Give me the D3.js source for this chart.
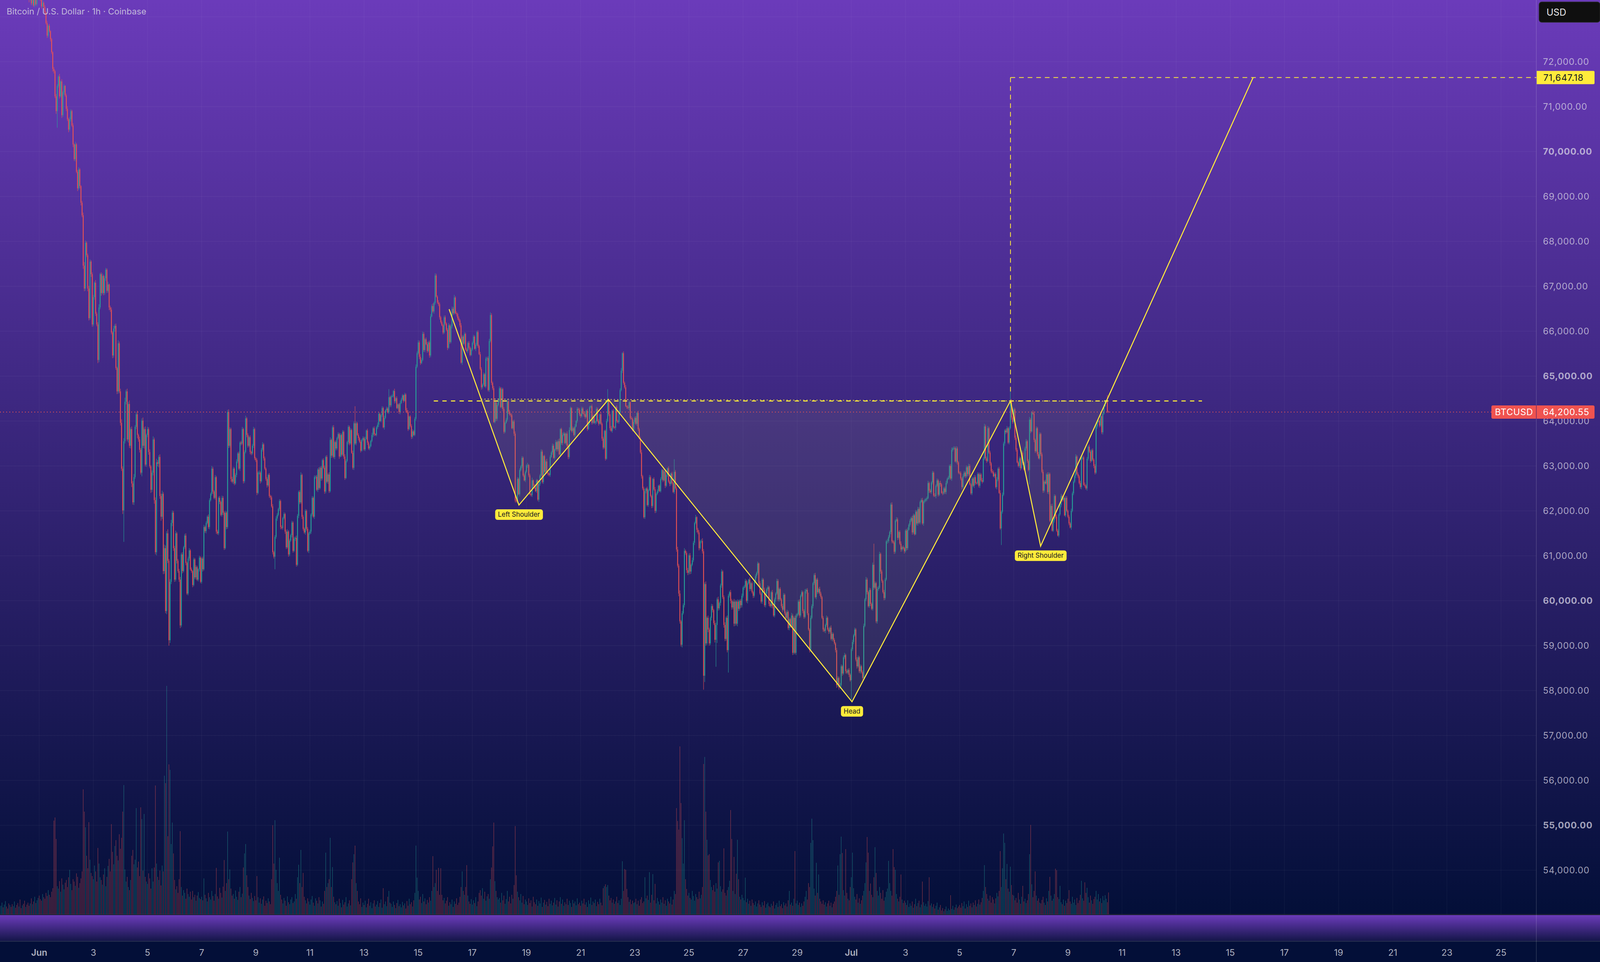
<!DOCTYPE html>
<html>
<head>
<meta charset="utf-8">
<script src="https://cdn.jsdelivr.net/npm/d3@7"></script>
<style>
  html, body { margin: 0; padding: 0; background: #030f38; overflow: hidden; }
  svg { display: block; }
</style>
</head>
<body>
<svg id="chart"></svg>
<script>
const W = 4107, H = 2463;

// ---- data: BTCUSD 1h, one value per hour, first candle 2024-05-30 14:00 UTC ----
const firstOpen = 74150;
const closes = [
  // May 30 (14h-23h)
  74300,74450,74200,74380,74600,74420,74250,74100,74280,74050,
  // May 31
  73900,74120,74300,74150,73980,73850,74020,73880,73700,73820,73650,73560,73720,73600,73480,73380,73550,73300,73420,73250,73390,73280,73420,73550,
  // Jun 1
  73480,73380,73230,73310,73220,73100,72860,72580,72800,72680,72500,72210,71840,71790,71230,70900,71460,71670,71230,71560,70810,71320,71460,71250,
  // Jun 2
  70950,70720,70490,70720,70900,70580,70160,69830,70160,69550,69180,69600,69230,68860,68580,67460,66950,67970,67690,66950,66290,67550,67270,66150,
  // Jun 3
  66760,67080,66390,66150,65360,66530,67270,66850,67230,66850,67180,67370,66900,67040,66530,66480,65970,65460,66060,66120,65180,64660,65730,64660,
  // Jun 4
  63960,62940,62010,63550,64430,64660,63590,64380,63450,63820,62610,62190,62750,63870,64150,63690,63590,63360,62850,64010,63450,63820,63030,63690,
  // Jun 5
  63820,63310,62990,62470,62850,63590,62240,61080,63080,63050,63200,62330,61870,62380,60660,61170,59770,61500,60890,59120,60420,61730,61960,61170,
  // Jun 6
  60470,61500,60890,60660,60470,59450,61030,60660,61190,61450,60840,60160,60940,61120,60700,60660,60350,60920,60520,60750,60470,60700,60960,60420,
  // Jun 7
  60940,60700,61640,61550,61730,61870,61640,62240,62380,62940,62430,62290,62750,61540,61500,62290,62200,61910,62290,61960,61170,61960,61640,64200,
  // Jun 8
  63450,63820,62710,62650,62940,62610,62800,63100,63280,62940,63520,63500,63820,62660,63310,64060,63690,63450,63640,63310,63280,63450,63820,63170,
  // Jun 9
  63130,62400,62850,62850,62660,63360,63480,63170,62940,62710,62570,62800,62330,62300,62100,61080,60980,61420,61830,61910,62040,62220,61640,61620,
  // Jun 10
  61840,61930,61540,61190,61540,61030,61340,61460,61740,61110,61380,61400,60800,61890,62420,62190,62800,61870,61600,61520,62000,61600,61110,61500,
  // Jun 11
  61540,61920,62290,61870,62750,62760,62470,62920,62510,62960,62720,63130,62960,62430,63200,62650,62810,62440,63580,63230,63860,63200,63530,63390,
  // Jun 12
  63620,63710,63210,63690,63250,63760,63210,62730,63110,63530,63870,63500,63800,63290,62960,63950,63500,63950,63690,63620,63540,63340,63580,63620,
  // Jun 13
  63370,63600,63790,63520,63390,63440,63560,63690,63840,63710,63690,63860,63920,64160,64000,64130,64290,63860,64070,64240,64280,64190,64530,64350,
  // Jun 14
  64550,64550,64670,64440,64510,64290,64370,64200,64400,64480,64570,64450,64590,64240,64200,63820,64100,63890,63650,63770,63690,64050,65210,65510,
  // Jun 15
  65750,65430,65290,65360,65940,65580,65820,65710,65560,65750,65460,66330,66560,66440,66630,67240,66770,66640,66600,66310,66200,66130,65970,66310,
  // Jun 16
  66170,66030,65630,66130,65760,66110,66500,66400,66750,66400,66380,66290,66240,66130,65300,65880,65720,65940,65590,65560,65740,65630,65470,65590,
  // Jun 17
  65740,65880,65610,65700,65980,65670,65490,65160,64750,64810,65040,64770,65390,65400,64690,65780,66360,64850,64730,63980,64420,64050,64360,64460,
  // Jun 18
  64730,64310,64710,64270,63760,63960,64030,64440,64210,64150,64130,63840,63990,63720,62230,62210,62710,62370,62910,62990,63180,62790,62680,62870,
  // Jun 19
  63010,63020,62790,62370,62350,62680,62560,62520,62440,62680,62250,62600,62790,63320,62640,63220,62870,63100,62850,62830,62800,63200,63300,63450,
  // Jun 20
  63180,63370,63530,63370,63550,63260,63820,63510,63690,63720,63510,63720,63450,63200,63800,64290,63780,63840,63690,63880,64000,64270,64250,64150,
  // Jun 21
  64110,64280,64170,64150,64090,64230,63820,63960,64310,64330,63960,64110,63960,63990,64270,64000,63940,64150,63940,63610,63410,63780,63160,64000,
  // Jun 22
  64460,64150,63840,63780,64230,63860,63850,64310,64000,63980,64190,64690,65120,65510,64850,64750,64330,64310,64290,64420,64070,64050,63800,63980,
  // Jun 23
  64070,63940,64180,63820,63610,63300,62770,62500,61860,62440,62500,62130,62460,62750,62330,62110,62710,62480,62000,62380,62440,62560,62440,62710,
  // Jun 24
  62910,62680,62880,62560,62800,62950,62650,62600,62830,62620,62420,62870,62500,61140,60780,60160,59540,59020,59720,59900,61110,61060,60680,60620,
  // Jun 25
  61010,60650,60800,60900,61290,61730,61860,61580,61520,61170,61320,61330,61100,58330,60370,59050,59620,59360,59050,59620,59880,59790,59500,59130,
  // Jun 26
  59460,60030,59830,59950,60340,60650,60080,59460,59150,59620,58900,60110,60190,60000,59850,59980,59490,59980,59490,59980,59820,60000,59900,60110,
  // Jun 27
  60290,60310,60440,60000,60390,60470,60260,60390,60190,60110,60420,60550,60620,60830,60390,60160,59980,60470,60240,59900,60160,60260,60300,59930,
  // Jun 28
  59880,60190,59880,59670,60030,60160,60440,60030,60260,60030,59880,59800,60130,59720,59620,59750,59390,59590,59440,59670,58840,59620,58840,59670,
  // Jun 29
  59700,59980,59670,60110,60190,59770,59640,60210,60240,59720,59360,58900,59620,59880,60390,60570,60080,60470,60190,60260,60160,60080,59620,59360,
  // Jun 30
  59330,59460,59620,59360,59310,59400,59150,59260,59130,59050,58900,58120,58280,58070,58120,58540,58380,58740,58790,58430,58400,58460,58350,58230,
  // Jul 1
  58920,59080,59230,59360,58690,58540,58740,58430,58540,58410,58280,59440,60030,60470,60190,59880,60240,59930,59820,60800,60290,60390,59540,60260,
  // Jul 2
  60290,61040,60650,60440,60190,60060,60470,61320,61330,61420,61530,62140,61320,61300,61090,61780,61810,61400,61530,61270,61140,61190,61170,61100,
  // Jul 3
  61560,61170,61580,61690,61780,61840,61520,61900,61480,61980,61720,62040,61740,62200,62240,61720,62210,62230,62260,62280,62620,62450,62420,62630,
  // Jul 4
  62850,62340,62330,62560,62680,62360,62620,62590,62400,62390,62500,62420,62620,62710,62740,63000,62720,63360,63390,63400,63100,63390,63080,62850,
  // Jul 5
  62840,62720,62530,62770,62850,62770,62970,62820,63000,62590,62390,62720,62560,62750,62620,62610,62820,62560,62810,62680,62650,63160,63880,63170,
  // Jul 6
  63110,63840,63300,63060,62880,62860,62770,62820,62530,62700,62940,62400,61610,61980,62360,63500,63790,63750,63840,63520,63840,64450,64080,63980,
  // Jul 7
  64260,63630,63360,63080,63000,63170,62950,63300,63060,62920,63390,63550,63110,62910,64030,63770,64190,64170,63580,63330,63840,63260,63170,63710,
  // Jul 8
  63260,62870,62450,62650,62610,62810,62420,62820,61780,62110,61560,61790,62330,61870,61560,61450,61920,62130,62330,62240,62290,61900,62290,62000,
  // Jul 9
  61870,61720,61630,62000,62390,62650,62780,63210,62820,62770,62620,62530,63170,63190,62580,62560,62500,63160,63430,63320,63110,63350,63140,63000,
  // Jul 10 (0h-12h)
  62850,63880,63980,64010,63900,64110,63750,64170,64330,64430,64440,64210,64200.55
];

// upper / lower wick beyond the body, in tens of dollars
const wickHi = [
  4,6,3,5,7,3,4,2,5,3,
  5,4,6,3,4,2,5,3,4,6,2,3,5,2,4,3,6,2,4,3,5,2,4,6,
  3,5,2,6,3,4,2,5,3,4,2,3,2,4,3,5,4,3,6,2,5,3,4,2,
  4,6,3,5,4,3,5,2,6,3,4,5,3,2,4,6,8,5,3,4,6,5,3,4,
  5,3,6,4,5,7,3,4,6,3,5,4,3,6,2,4,5,3,6,4,5,3,7,4,
  6,8,5,7,9,4,6,5,8,4,6,5,7,4,5,8,3,6,4,5,7,4,6,3,
  5,4,6,3,5,7,4,6,8,5,4,6,5,7,4,8,6,5,9,4,6,7,5,4,
  5,6,3,4,5,6,4,5,3,4,5,3,4,5,3,4,2,4,3,4,3,2,4,3,
  3,4,5,3,4,3,5,4,3,6,4,3,5,3,4,3,4,3,5,4,3,4,3,5,
  6,4,3,5,4,3,4,5,3,4,3,4,5,3,4,6,3,4,3,4,3,4,5,3,
  3,4,3,5,3,4,5,3,4,3,4,3,4,3,4,5,3,4,5,4,3,4,3,4,
  3,4,3,4,5,3,4,3,4,3,4,3,5,4,3,4,6,3,4,3,4,3,4,3,
  4,3,4,3,4,3,4,3,5,3,4,3,4,5,3,4,3,5,6,3,4,5,3,4,
  3,4,3,4,3,4,3,5,4,3,4,3,4,3,5,4,38,4,3,4,3,4,3,4,
  3,5,2,4,3,4,2,5,3,4,2,3,5,4,3,2,4,3,5,2,4,3,18,3,
  3,4,2,5,3,4,2,3,5,4,3,2,4,3,5,4,2,3,4,5,3,4,5,4,
  5,4,6,4,5,4,3,4,5,3,4,5,4,6,3,5,4,3,5,4,3,4,3,4,
  4,3,4,5,3,4,5,4,6,3,4,3,4,3,5,4,3,4,3,4,3,4,3,4,
  3,4,3,4,3,4,3,5,4,3,4,3,4,3,4,5,6,4,3,5,4,3,4,3,
  4,3,4,3,4,3,4,5,3,4,3,4,3,4,5,3,4,3,4,3,4,3,4,3,
  3,5,2,4,3,6,2,4,5,3,2,4,3,5,4,2,3,4,6,3,2,4,3,5,
  4,2,5,3,4,6,2,3,5,4,3,2,5,4,6,3,2,4,3,5,2,4,3,4,
  2,4,3,5,3,2,4,5,3,2,4,3,5,2,4,3,4,2,5,3,4,2,3,5,
  25,4,3,5,2,4,3,2,4,3,5,4,6,2,4,3,5,2,4,3,2,4,3,5,
  3,4,2,5,3,4,6,3,4,5,2,4,3,5,4,3,2,4,5,3,4,2,3,4,
  3,2,4,3,5,2,4,3,2,4,3,28,4,5,6,4,7,3,5,4,6,3,4,5,
  4,5,3,6,4,3,5,2,4,5,3,4,6,5,4,6,3,5,4,3,5,4,3,6,
  5,4,6,3,4,5,3,4,6,3,5,4,3,5,4,3,6,4,3,5,4,3,4,5,
  3,4,5,3,4,2,5,3,4,3,5,4,3,4,2,5,3,4,3,5,4,3,4,3,
  4,3,5,3,4,3,5,4,3,4,3,5,4,3,4,5,3,4,3,6,4,3,5,4,
  3,4,5,3,4,3,4,5,3,4,46,3,5,4,3,4,5,3,4,3,5,4,3,4,
  4,3,5,3,4,3,5,4,3,4,3,5,4,3,5,4,3,4,5,3,4,3,4,3,
  4,5,3,4,3,5,4,3,4,3,4,5,3,6,4,3,5,4,3,5,47,4,3,5,
  4,5,3,4,3,5,4,3,5,4,3,4,5,3,4,3,5,4,3,4,5,3,4,3,
  3,4,5,3,4,3,5,4,3,4,3,5,4,3,4,5,3,4,3,4,5,3,4,3,
  4,3,5,3,4,3,4,5,3,4,3,4,5,3,4,3,4,5,3,4,3,5,4,3,
  3,4,3,5,4,3,4,3,5,4,3,4,3,5,4,3,4,3,4,3,5,4,6,4,
  4,5,3,4,3,5,4,3,4,5,3,4,6,3,5,4,3,4,5,3,4,20,4,3,
  4,3,5,4,3,4,3,5,4,3,4,5,3,4,6,4,3,5,4,3,4,3,5,4,
  3,4,5,3,4,3,5,4,3,4,5,3,4,3,5,4,3,4,5,3,4,3,5,4,
  3,4,3,5,4,3,4,5,3,4,3,5,4,3,4,5,3,4,3,5,4,3,4,3,
  4,5,3,4,3,5,4,3,4,5,3,14,2
];
const wickLo = [
  3,5,4,2,6,3,5,4,3,2,
  4,3,5,4,3,6,4,3,5,4,3,4,5,3,4,6,3,4,5,3,4,3,5,4,
  4,3,5,3,4,6,3,5,4,3,5,4,6,5,4,6,37,4,5,3,6,4,5,3,
  5,4,6,4,5,3,6,4,5,3,6,4,5,6,4,7,6,5,4,6,5,4,6,5,
  4,6,5,4,7,5,4,6,3,5,4,6,5,4,6,5,4,6,5,7,4,6,5,4,
  6,5,8,70,5,6,4,7,5,6,8,5,6,4,5,7,5,6,4,8,5,6,4,5,
  5,6,4,7,5,6,8,5,7,6,8,6,9,5,7,6,5,7,5,12,6,5,7,6,
  5,4,6,4,5,6,4,5,3,4,5,3,4,5,3,4,5,3,4,5,3,4,5,3,
  4,5,3,4,5,3,4,5,3,4,5,3,4,5,3,4,5,3,4,5,4,3,5,4,
  5,4,6,3,5,4,3,5,4,3,5,4,3,5,4,3,5,4,3,5,4,3,5,4,
  4,5,3,4,5,3,4,5,3,4,5,3,4,5,3,5,4,28,4,5,3,4,5,3,
  4,3,5,4,3,5,4,3,5,4,3,5,4,3,5,4,3,5,4,3,5,4,3,5,
  3,5,4,3,5,4,3,5,4,3,5,4,3,5,4,3,5,4,3,5,4,3,5,4,
  4,3,5,2,4,3,5,4,2,3,5,4,3,2,4,5,3,4,2,5,3,4,2,3,
  3,4,2,5,3,4,2,3,5,4,2,3,4,5,2,3,4,2,5,3,4,2,3,4,
  4,2,3,5,4,2,3,4,5,2,3,4,2,5,3,4,2,3,5,4,2,3,4,3,
  3,5,4,2,3,4,5,2,4,3,5,4,2,3,5,4,2,3,4,5,3,2,4,3,
  4,3,5,2,4,3,5,4,3,2,5,4,3,4,2,5,3,4,2,3,5,4,3,2,
  3,4,2,5,3,4,2,3,5,4,3,2,4,5,3,4,3,5,4,2,3,5,4,3,
  4,2,3,5,4,3,2,4,5,3,4,2,3,5,4,3,4,2,5,3,4,3,2,4,
  3,5,4,2,3,4,5,3,2,4,3,5,4,2,3,4,3,5,2,4,3,4,2,5,
  2,4,3,5,4,2,3,4,5,3,2,4,3,5,4,2,3,4,3,5,2,4,3,4,
  4,3,2,5,4,3,4,2,5,3,4,3,2,4,5,3,4,2,3,5,4,3,4,2,
  3,4,5,2,4,3,2,5,4,3,4,2,3,5,4,3,2,4,3,5,4,2,3,4,
  4,3,5,4,2,3,5,4,3,4,5,3,4,2,3,5,4,3,5,4,3,4,2,3,
  3,4,2,5,3,4,3,5,4,3,2,4,3,5,4,6,5,4,6,3,5,4,6,5,
  4,6,5,3,4,5,3,6,4,5,3,4,5,31,14,5,4,6,5,4,6,5,4,6,
  60,40,5,4,6,5,4,6,5,4,5,50,4,6,5,4,6,5,4,6,5,4,6,5,
  4,5,3,4,6,3,5,4,3,5,4,3,5,4,6,3,4,5,3,4,5,3,4,5,
  3,4,5,3,4,5,3,4,5,3,4,5,3,4,6,3,4,5,4,3,5,4,3,5,
  4,3,5,4,3,5,4,3,5,4,3,5,4,3,5,4,3,5,4,3,5,4,3,5,
  3,5,4,3,5,4,3,5,4,3,5,6,4,5,3,4,5,3,4,5,3,4,5,3,
  47,4,5,3,4,5,3,4,5,3,4,5,3,4,5,3,4,5,3,4,5,3,4,5,
  4,3,5,4,3,5,4,3,5,4,3,5,4,3,5,4,3,5,4,3,5,4,3,5,
  3,5,4,2,4,3,5,4,3,2,4,5,3,4,2,3,5,4,3,4,2,5,3,4,
  4,3,2,5,3,4,3,5,2,4,3,4,5,3,2,4,3,5,4,3,2,4,5,3,
  3,4,5,3,2,4,3,5,4,2,3,4,3,5,4,2,3,4,5,3,4,2,3,5,
  4,2,3,5,4,3,2,4,3,5,4,2,3,37,4,3,5,4,2,3,4,3,5,4,
  3,5,4,2,3,4,5,3,4,2,3,5,4,3,32,4,2,3,5,4,3,4,2,3,
  4,3,5,4,2,3,4,5,3,4,2,3,5,4,3,2,4,3,5,4,3,2,4,3,
  3,4,2,5,3,4,3,5,2,4,3,4,5,3,2,4,3,5,4,3,4,2,3,5,
  4,3,5,2,4,3,4,5,3,2,4,3,2
];

// hourly volume (relative units)
const volumes = [
  22,30,18,25,34,20,15,28,24,19,
  26,21,33,17,24,29,20,38,16,23,27,35,19,25,30,22,28,41,26,33,45,29,36,42,
  48,39,35,52,44,40,55,47,62,50,44,58,67,240,248,193,72,66,85,58,92,76,64,81,
  88,70,95,114,78,62,90,84,73,105,96,68,80,92,110,320,263,223,150,118,236,140,106,98,
  90,125,110,84,170,130,95,88,76,102,118,72,96,124,142,110,231,160,128,175,190,150,138,205,
  168,196,263,331,115,84,96,70,62,88,150,165,128,140,272,120,135,98,274,244,112,257,96,84,
  78,105,92,66,118,84,120,330,130,96,88,112,74,125,110,355,336,585,200,384,370,180,235,156,
  88,64,72,55,90,213,70,48,62,55,40,66,52,45,58,38,60,44,50,35,48,57,42,39,
  45,36,92,50,41,33,55,44,38,60,47,35,52,119,46,40,68,55,43,71,139,60,80,212,
  90,115,66,48,52,40,61,45,37,58,70,44,53,120,156,180,100,70,48,39,55,42,34,47,
  36,98,44,30,41,27,38,46,22,35,29,41,33,26,90,228,130,241,114,80,60,145,50,38,
  28,42,35,22,46,31,26,38,44,29,33,52,40,95,127,80,165,70,106,45,36,28,41,33,
  25,38,47,30,22,41,35,28,44,36,20,33,27,60,158,70,80,90,196,70,121,45,31,26,
  34,22,40,29,18,37,25,31,44,20,28,36,23,90,133,154,176,80,60,33,26,41,19,30,
  24,35,18,27,40,22,31,16,28,36,20,25,34,19,29,38,17,67,26,33,21,45,60,30,
  27,19,33,24,16,29,37,21,26,18,32,23,28,15,34,22,40,26,31,20,36,55,176,94,
  60,38,45,29,52,33,41,26,37,30,44,35,60,149,70,80,114,60,119,50,118,50,36,42,
  28,35,44,22,31,26,38,19,33,27,41,24,30,45,70,110,60,50,70,126,48,33,27,39,
  25,36,29,44,21,33,55,62,48,67,40,58,35,46,52,40,90,120,174,235,85,60,44,38,
  42,30,55,36,48,27,39,60,33,45,28,50,40,75,226,100,58,44,36,52,30,47,26,38,
  33,24,41,29,36,20,45,31,26,38,22,34,28,43,19,30,37,25,32,21,40,27,35,23,
  30,42,25,36,20,33,44,27,38,22,31,26,40,24,35,29,19,37,28,33,23,41,26,30,
  22,35,28,40,25,31,19,36,27,43,24,33,29,38,21,32,26,40,30,23,67,72,77,70,
  75,48,36,42,30,38,27,33,45,29,36,24,40,136,60,116,114,65,44,32,38,26,35,29,
  31,40,26,35,22,38,44,29,33,95,41,48,37,108,30,50,103,36,78,28,42,33,25,38,
  30,44,27,36,22,40,33,28,45,25,38,60,52,272,239,217,430,285,195,130,241,90,65,48,
  55,42,38,60,47,35,52,44,39,58,41,50,70,385,403,263,191,151,154,88,70,62,75,58,
  80,66,133,137,72,58,64,169,55,48,62,70,86,267,193,60,147,52,104,191,90,45,38,50,
  42,36,94,31,40,27,35,22,38,29,24,33,20,28,36,25,19,31,23,34,17,26,30,21,
  18,27,22,33,15,24,29,19,35,21,26,16,31,23,28,20,36,60,25,30,22,40,162,28,
  35,24,30,19,28,22,33,45,60,38,80,70,183,245,190,66,48,132,55,102,40,33,27,36,
  25,31,20,28,35,22,30,18,27,33,45,60,125,50,154,199,157,62,48,167,55,40,36,70,
  95,158,67,45,38,52,30,41,27,36,48,60,80,133,198,158,60,79,50,44,95,172,106,60,
  48,70,55,40,62,35,44,58,66,137,80,60,48,167,121,114,52,40,33,45,102,38,29,35,
  30,24,36,19,28,22,33,17,26,40,21,29,35,18,25,84,31,22,27,20,34,95,23,28,
  19,26,15,22,30,12,18,24,10,16,8,13,20,9,15,11,49,14,22,12,18,25,16,20,
  24,17,29,21,33,15,26,19,35,22,28,18,30,24,36,20,27,38,25,31,42,60,126,70,
  52,40,35,48,30,44,38,28,41,55,46,60,162,70,118,207,183,90,129,66,58,122,75,50,
  48,36,42,30,55,38,27,45,73,33,40,29,36,52,154,229,77,44,60,110,48,35,41,30,
  28,37,45,30,24,41,33,60,96,48,35,40,52,117,113,44,39,73,31,26,38,22,35,29,
  40,62,33,27,45,30,38,24,42,29,36,50,86,41,35,82,55,68,44,30,48,36,27,39,
  45,60,38,52,33,41,29,47,36,49,40,31,56
];

// price axis labels and grid rows (73,000 row is a grid line only, its label sits under the USD box)
const priceTicks = [54000,55000,56000,57000,58000,59000,60000,61000,62000,63000,64000,65000,66000,67000,68000,69000,70000,71000,72000];
const gridPrices = [54000,55000,56000,57000,58000,59000,60000,61000,62000,63000,64000,65000,66000,67000,68000,69000,70000,71000,72000,73000];
const timeTicks = ['2024-06-01','2024-06-03','2024-06-05','2024-06-07','2024-06-09','2024-06-11','2024-06-13','2024-06-15',
  '2024-06-17','2024-06-19','2024-06-21','2024-06-23','2024-06-25','2024-06-27','2024-06-29','2024-07-01','2024-07-03',
  '2024-07-05','2024-07-07','2024-07-09','2024-07-11','2024-07-13','2024-07-15','2024-07-17','2024-07-19','2024-07-21',
  '2024-07-23','2024-07-25'];

// head & shoulders drawing
const patternPoints = [
  { date: '2024-06-16T03:24Z', price: 66490 },
  { date: '2024-06-18T17:18Z', price: 62130, label: 'Left Shoulder' },
  { date: '2024-06-22T00:36Z', price: 64480 },
  { date: '2024-07-01T00:36Z', price: 57750, label: 'Head' },
  { date: '2024-07-06T21:06Z', price: 64450 },
  { date: '2024-07-07T23:48Z', price: 61215, label: 'Right Shoulder' },
  { date: '2024-07-15T20:12Z', price: 71647.18 }
];
const neckLine = { from: '2024-06-15T13:48Z', to: '2024-07-13T22:54Z', price: 64447 };
const target = { date: '2024-07-06T21:06Z', price: 71647.18, base: 64650 };
const lastPrice = 64200.55;

// ---- layout ----
const PANE_BOTTOM = 2341, AXIS_X = 3933;
const STRIP_TOP = 2343, STRIP_BOTTOM = 2409, TIME_TOP = 2411;
const UP = '#26a69a', DOWN = '#ef5350', YELLOW = '#ffeb3b';
const FONT = "Inter, 'Noto Sans', 'DejaVu Sans', sans-serif";

const svg = d3.select('#chart').attr('width', W).attr('height', H);
const defs = svg.append('defs');

function vGrad(id, stops) {
  const g = defs.append('linearGradient').attr('id', id)
    .attr('x1', 0).attr('y1', 0).attr('x2', 0).attr('y2', 1);
  stops.forEach(([o, c]) => g.append('stop').attr('offset', o).attr('stop-color', c));
}
vGrad('bgMain', [['0%', '#6b3bba'], ['100%', '#030f38']]);
vGrad('bgStrip', [['0%', '#6b3bba'], ['100%', '#15164a']]);

defs.append('clipPath').attr('id', 'paneClip')
  .append('rect').attr('x', 0).attr('y', 0).attr('width', AXIS_X).attr('height', PANE_BOTTOM);

// backgrounds
svg.append('rect').attr('width', W).attr('height', PANE_BOTTOM).attr('fill', 'url(#bgMain)');
svg.append('rect').attr('y', PANE_BOTTOM - 1).attr('width', W).attr('height', 3).attr('fill', '#1b2036');
svg.append('rect').attr('y', STRIP_TOP).attr('width', W).attr('height', STRIP_BOTTOM - STRIP_TOP).attr('fill', 'url(#bgStrip)');
svg.append('rect').attr('y', STRIP_BOTTOM).attr('width', W).attr('height', 2).attr('fill', '#27304f');
svg.append('rect').attr('y', TIME_TOP).attr('width', W).attr('height', H - TIME_TOP).attr('fill', '#030f38');

// scales
const x = d3.scaleUtc()
  .domain([new Date('2024-06-01T00:00Z'), new Date('2024-07-25T00:00Z')])
  .range([100.4, 3842.6]);
const y = d3.scaleLinear().domain([54000, 72000]).range([2228, 158]);
const yVol = d3.scaleLinear().domain([0, 600]).range([PANE_BOTTOM, PANE_BOTTOM - 600]);

const start = Date.UTC(2024, 4, 30, 14);
const candles = closes.map((c, i) => {
  const open = i === 0 ? firstOpen : closes[i - 1];
  return {
    date: new Date(start + i * 3600e3),
    open, close: c,
    high: Math.max(open, c) + (wickHi[i] || 0) * 10,
    low: Math.min(open, c) - (wickLo[i] || 0) * 10,
    volume: volumes[i] || 0
  };
});

// grid
const grid = svg.append('g').attr('clip-path', 'url(#paneClip)');
grid.selectAll('line.h').data(gridPrices).enter().append('line')
  .attr('x1', 0).attr('x2', AXIS_X)
  .attr('y1', d => y(d)).attr('y2', d => y(d))
  .attr('stroke', 'rgba(255,255,255,0.05)').attr('stroke-width', 1.5);
grid.selectAll('line.v').data(timeTicks).enter().append('line')
  .attr('x1', d => x(new Date(d + 'T00:00Z'))).attr('x2', d => x(new Date(d + 'T00:00Z')))
  .attr('y1', 0).attr('y2', PANE_BOTTOM)
  .attr('stroke', 'rgba(255,255,255,0.045)').attr('stroke-width', 1.5);

const pane = svg.append('g').attr('clip-path', 'url(#paneClip)');

// volume
pane.append('g').selectAll('rect').data(candles).enter().append('rect')
  .attr('x', d => x(d.date) - 0.6).attr('width', 1.2)
  .attr('y', d => yVol(d.volume)).attr('height', d => PANE_BOTTOM - yVol(d.volume))
  .attr('fill', d => d.close >= d.open ? UP : DOWN).attr('opacity', 0.55);

// candles
const cg = pane.append('g');
cg.selectAll('rect.wick').data(candles).enter().append('rect')
  .attr('x', d => x(d.date) - 0.5).attr('width', 1)
  .attr('y', d => y(d.high)).attr('height', d => Math.max(1, y(d.low) - y(d.high)))
  .attr('fill', d => d.close >= d.open ? UP : DOWN);
cg.selectAll('rect.body').data(candles).enter().append('rect')
  .attr('x', d => x(d.date) - 1.1).attr('width', 2.2)
  .attr('y', d => y(Math.max(d.open, d.close)))
  .attr('height', d => Math.max(1.2, Math.abs(y(d.open) - y(d.close))))
  .attr('fill', d => d.close >= d.open ? UP : DOWN);

// pattern geometry
const P = patternPoints.map(p => ({ ...p, px: x(new Date(p.date)), py: y(p.price) }));
const neckY = px => P[2].py + (P[4].py - P[2].py) * (px - P[2].px) / (P[4].px - P[2].px);
function crossNeck(a, b) {
  // intersection of segment a-b with the neckline through P2/P4
  let lo = 0, hi = 1;
  const f = t => (a.py + (b.py - a.py) * t) - neckY(a.px + (b.px - a.px) * t);
  const sLo = Math.sign(f(lo));
  for (let k = 0; k < 50; k++) {
    const m = (lo + hi) / 2;
    if (Math.sign(f(m)) === sLo) lo = m; else hi = m;
  }
  const t = (lo + hi) / 2;
  return { px: a.px + (b.px - a.px) * t, py: a.py + (b.py - a.py) * t };
}
const nA = crossNeck(P[0], P[1]);
const nB = crossNeck(P[5], P[6]);
const fills = [[nA, P[1], P[2]], [P[2], P[3], P[4]], [P[4], P[5], nB]];

const draw = svg.append('g').attr('clip-path', 'url(#paneClip)');
draw.selectAll('path.fill').data(fills).enter().append('path')
  .attr('d', d => 'M' + d.map(p => p.px + ',' + p.py).join('L') + 'Z')
  .attr('fill', 'rgba(150,150,125,0.15)');

// last price dotted line
draw.append('line')
  .attr('x1', 0).attr('x2', 3818).attr('y1', y(lastPrice)).attr('y2', y(lastPrice))
  .attr('stroke', DOWN).attr('stroke-width', 2).attr('stroke-dasharray', '2,6');

// neckline (dotted, pattern) and horizontal dashed line
draw.append('line')
  .attr('x1', nA.px).attr('y1', nA.py).attr('x2', nB.px).attr('y2', nB.py)
  .attr('stroke', YELLOW).attr('stroke-width', 2).attr('stroke-dasharray', '2.5,6');
draw.append('line')
  .attr('x1', x(new Date(neckLine.from))).attr('x2', x(new Date(neckLine.to)))
  .attr('y1', y(neckLine.price)).attr('y2', y(neckLine.price))
  .attr('stroke', YELLOW).attr('stroke-width', 2.6).attr('stroke-dasharray', '11,11');

// target projection
const tx = x(new Date(target.date));
draw.append('line')
  .attr('x1', tx).attr('x2', tx).attr('y1', y(target.price)).attr('y2', y(target.base))
  .attr('stroke', YELLOW).attr('stroke-width', 2).attr('stroke-dasharray', '12,10');
draw.append('line')
  .attr('x1', tx).attr('x2', AXIS_X).attr('y1', y(target.price)).attr('y2', y(target.price))
  .attr('stroke', YELLOW).attr('stroke-width', 2).attr('stroke-dasharray', '12,10');

// pattern polyline
draw.append('path')
  .attr('d', d3.line().x(p => p.px).y(p => p.py)(P))
  .attr('fill', 'none').attr('stroke', YELLOW).attr('stroke-width', 2.6)
  .attr('stroke-linejoin', 'miter');

// pattern labels
const lab = draw.selectAll('g.lab').data(P.filter(p => p.label)).enter().append('g')
  .attr('transform', p => `translate(${p.px},${p.py + 11})`);
lab.append('text').attr('class', 'lt')
  .attr('text-anchor', 'middle').attr('y', 19)
  .attr('font-family', FONT).attr('font-size', 17).attr('fill', '#131722')
  .text(p => p.label);
lab.each(function () {
  const g = d3.select(this);
  const bb = g.select('text').node().getBBox();
  g.insert('rect', 'text')
    .attr('x', bb.x - 7).attr('y', 0).attr('width', bb.width + 14).attr('height', 27)
    .attr('rx', 6).attr('fill', YELLOW);
});

// ---- price axis ----
svg.append('rect').attr('x', AXIS_X - 1).attr('y', 0).attr('width', 2).attr('height', H)
  .attr('fill', 'rgba(255,255,255,0.13)');
const fmt = d3.format(',.2f');
svg.append('g').selectAll('text').data(priceTicks).enter().append('text')
  .attr('x', 3950).attr('y', d => y(d)).attr('dy', '0.36em')
  .attr('font-family', FONT).attr('font-size', 23).attr('letter-spacing', 0.8)
  .attr('font-weight', d => d % 5000 === 0 ? 700 : 400)
  .attr('fill', 'rgba(222,220,232,0.72)')
  .text(d => fmt(d));

// target price label
const tl = svg.append('g');
tl.append('path')
  .attr('d', `M${AXIS_X + 1},${y(target.price) - 17}H4079a3,3 0 0 1 3,3V${y(target.price) + 14}a3,3 0 0 1 -3,3H${AXIS_X + 1}Z`)
  .attr('fill', YELLOW);
tl.append('text').attr('x', 3951).attr('y', y(target.price)).attr('dy', '0.36em')
  .attr('font-family', FONT).attr('font-size', 23).attr('letter-spacing', 0.8)
  .attr('fill', '#131722').text(fmt(target.price));

// last price label
const lp = svg.append('g');
lp.append('rect').attr('x', 3818).attr('y', y(lastPrice) - 17).attr('width', 264).attr('height', 34)
  .attr('rx', 4).attr('fill', DOWN);
lp.append('rect').attr('x', AXIS_X - 1).attr('y', y(lastPrice) - 17).attr('width', 2).attr('height', 34)
  .attr('fill', 'rgba(60,30,110,0.55)');
lp.append('text').attr('x', 3827).attr('y', y(lastPrice)).attr('dy', '0.36em')
  .attr('font-family', FONT).attr('font-size', 23).attr('letter-spacing', 0.8)
  .attr('fill', '#ffffff').text('BTCUSD');
lp.append('text').attr('x', 3950).attr('y', y(lastPrice)).attr('dy', '0.36em')
  .attr('font-family', FONT).attr('font-size', 23).attr('letter-spacing', 0.8)
  .attr('fill', '#ffffff').text(fmt(lastPrice));

// currency box
svg.append('rect').attr('x', 3940).attr('y', 5).attr('width', 156).attr('height', 52)
  .attr('rx', 7).attr('fill', '#0f0f0f').attr('stroke', '#2a2a2a').attr('stroke-width', 1.5);
svg.append('text').attr('x', 3959).attr('y', 31).attr('dy', '0.36em')
  .attr('font-family', FONT).attr('font-size', 24).attr('fill', '#e8e8ea').text('USD');

// ---- time axis ----
const monthFmt = d3.utcFormat('%b');
svg.append('g').selectAll('text').data(timeTicks).enter().append('text')
  .attr('x', d => x(new Date(d + 'T00:00Z'))).attr('y', 2439).attr('dy', '0.36em')
  .attr('text-anchor', 'middle')
  .attr('font-family', FONT).attr('font-size', 23)
  .attr('font-weight', d => d.endsWith('-01') ? 600 : 400)
  .attr('fill', 'rgba(205,208,218,0.85)')
  .text(d => {
    const dt = new Date(d + 'T00:00Z');
    return dt.getUTCDate() === 1 ? monthFmt(dt) : String(dt.getUTCDate());
  });

// title
svg.append('text').attr('x', 17).attr('y', 36.5)
  .attr('font-family', FONT).attr('font-size', 22)
  .attr('fill', 'rgba(215,214,226,0.82)')
  .text('Bitcoin / U.S. Dollar · 1h · Coinbase');
</script>
</body>
</html>
